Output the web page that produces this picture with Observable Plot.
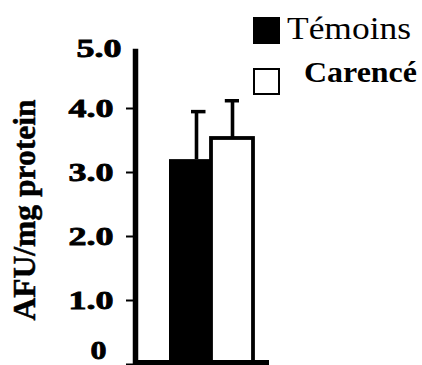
<!DOCTYPE html>
<html><head><meta charset="utf-8">
<script src="https://cdn.jsdelivr.net/npm/d3@7"></script>
<script src="https://cdn.jsdelivr.net/npm/@observablehq/plot@0.6"></script>
<style>
html,body{margin:0;padding:0;background:#fff;}
#wrap{position:relative;width:422px;height:365px;overflow:hidden;}
#wrap svg{display:block;}
#legend{position:absolute;left:0;top:0;pointer-events:none;}
</style></head><body><div id="wrap"></div>
<script>
// ---- data ----
const categories = ["Témoins", "Carencé"];
const means = [3.17, 3.5];
const errors = [0.75, 0.59];
const fills = ["black", "white"];
const yTickValues = [0, 1, 2, 3, 4, 5];
const yTickLabels = ["0", "1.0", "2.0", "3.0", "4.0", "5.0"];
const yLabel = "AFU/mg protein";

const data = categories.map((c, i) => ({cat: c, value: means[i], err: errors[i], fill: fills[i]}));
const fmt = d => yTickLabels[yTickValues.indexOf(d)];
const serif = "'Liberation Serif','Times New Roman',serif";
const isFirst = d => d.cat === categories[0];
const isSecond = d => d.cat === categories[1];

const plot = Plot.plot({
  width: 422, height: 365,
  marginLeft: 135, marginRight: 153, marginTop: 42, marginBottom: 3,
  style: {background: "white", fontFamily: serif, color: "black"},
  x: {type: "band", domain: categories, paddingInner: 0, paddingOuter: 0.576, align: 0.673, axis: null},
  y: {domain: [0, 5], axis: null},
  marks: [
    Plot.barY(data, {filter: isFirst, x: "cat", y: "value", fill: "fill"}),
    Plot.barY(data, {filter: isSecond, x: "cat", y: "value", fill: "fill", stroke: "black", strokeWidth: 3.8}),
    Plot.ruleX(data, {filter: isFirst, x: "cat", y1: "value", y2: d => d.value + d.err, strokeWidth: 3.6, dx: 6}),
    Plot.ruleX(data, {filter: isSecond, x: "cat", y1: "value", y2: d => d.value + d.err, strokeWidth: 3.6}),
    Plot.tickY(data, {filter: isFirst, x: "cat", y: d => d.value + d.err, strokeWidth: 3.5, insetLeft: 22, insetRight: 5.5}),
    Plot.tickY(data, {filter: isSecond, x: "cat", y: d => d.value + d.err, strokeWidth: 3.5, insetLeft: 13.8, insetRight: 14}),
    Plot.ruleY([0], {strokeWidth: 5}),
    Plot.frame({anchor: "left", strokeWidth: 5.5, insetTop: 9}),
    Plot.axisY({ticks: yTickValues.slice(0, 5), tickSize: 9, tickPadding: 13, strokeWidth: 2, label: null,
      tickFormat: d => d === 0 ? "" : fmt(d), fontSize: 25, fontWeight: "bold", dy: 2, className: "ymain"}),
    Plot.axisY({ticks: [0], tickSize: 0, tickPadding: 29, tickFormat: fmt, label: null, fontSize: 26, fontWeight: "bold", dy: -12, className: "yzero"}),
    Plot.axisY({ticks: [5], tickSize: 0, tickPadding: 14, tickFormat: fmt, label: null, fontSize: 25, fontWeight: "bold", dy: 6, className: "yfive"}),
    Plot.text([yLabel], {text: d => d, frameAnchor: "left", rotate: -90, dx: -111, dy: 7.5,
      fontSize: 32, fontWeight: "bold", textAnchor: "middle", className: "ytitle"})
  ]
});

const wrap = document.getElementById("wrap");
wrap.appendChild(plot);

// stretch and embolden tick labels like the reference's wide heavy digits
d3.select(plot).selectAll(".ymain text, .yzero text, .yfive text").each(function() {
  const t = this.textContent;
  if (!t) return;
  d3.select(this).attr("textLength", t.length === 1 ? 16 : 45).attr("lengthAdjust", "spacingAndGlyphs")
    .attr("stroke", "black").attr("stroke-width", 0.8);
});
d3.select(plot).selectAll(".ytitle text")
  .attr("text-anchor", "middle")
  .attr("stroke", "black").attr("stroke-width", 0.5)
  .attr("textLength", 221).attr("lengthAdjust", "spacingAndGlyphs");

// ---- legend ----
const legendRows = [
  {top: 17, textX: 287, baseline: 39, size: 31, weight: "normal", len: 124},
  {top: 68, textX: 304, baseline: 82, size: 29.5, weight: "bold", len: 113}
];
const leg = d3.select(wrap).append("svg").attr("id", "legend").attr("width", 422).attr("height", 365);
categories.forEach((c, i) => {
  const r = legendRows[i];
  leg.append("rect").attr("x", 254).attr("y", r.top + 1).attr("width", 25).attr("height", 25)
    .attr("fill", fills[i]).attr("stroke", "black").attr("stroke-width", 2);
  leg.append("text").attr("x", r.textX).attr("y", r.baseline).text(c)
    .attr("font-family", serif).attr("font-size", r.size).attr("font-weight", r.weight)
    .attr("textLength", r.len).attr("lengthAdjust", "spacingAndGlyphs").attr("fill", "black");
});
</script></body></html>
